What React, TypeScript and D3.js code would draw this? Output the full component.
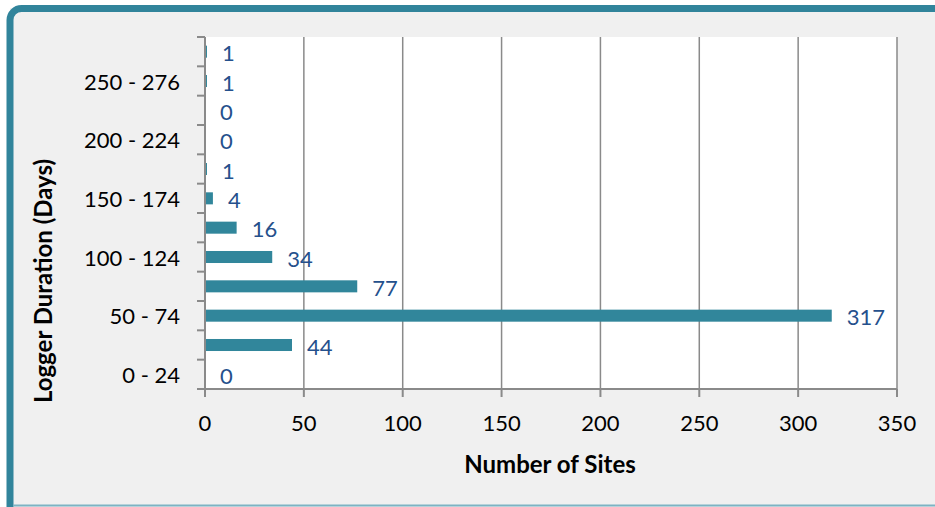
import React from "react";
import * as d3 from "d3";

const categories = [
  "0 - 24", "25 - 49", "50 - 74", "75 - 99", "100 - 124", "125 - 149",
  "150 - 174", "175 - 199", "200 - 224", "225 - 249", "250 - 276", "277 +",
];
const siteCounts = [0, 44, 317, 77, 34, 16, 4, 1, 0, 0, 1, 1];
const xTicks = [0, 50, 100, 150, 200, 250, 300, 350];
const shownCategoryLabels = ["0 - 24", "50 - 74", "100 - 124", "150 - 174", "200 - 224", "250 - 276"];

const W = 935, H = 507;
const FONT = "Lato, 'Open Sans', sans-serif";
const BAR = "#31869b";
const LABEL = "#25508c";
const AXIS = "#8a8a8a";

export default function App() {
  const x = d3.scaleLinear().domain([0, 350]).range([205, 897]);
  const y = d3.scaleBand<string>().domain(categories).range([389, 37]).paddingInner(0.59).paddingOuter(0.295);
  const step = y.step();
  const bounds = d3.range(categories.length + 1).map((i) => 389 - i * step);

  return (
    <svg width={W} height={H} style={{ position: "absolute", left: 0, top: 0 }} fontFamily={FONT}>
      <rect x={0} y={0} width={W} height={H} fill="#ffffff" />
      <rect x={10} y={8} width={W} height={H} fill="#f0f0f0" />
      <path d={`M10,${H + 5} V20 A11.5,11.5 0 0 1 21.5,8.5 H${W + 5}`} fill="none" stroke="#31849b" strokeWidth={7} />
      <line x1={13} x2={W} y1={505.5} y2={505.5} stroke="#7db3c3" strokeWidth={2} />

      <rect x={x(0)} y={37} width={x(350) - x(0)} height={389 - 37} fill="#ffffff" />

      {xTicks.slice(1).map((t) => (
        <line key={"g" + t} x1={x(t)} x2={x(t)} y1={37} y2={389} stroke={AXIS} strokeWidth={1.5} />
      ))}

      {categories.map((c, i) => (
        <rect key={c} x={x(0)} y={y(c)!} width={x(siteCounts[i]) - x(0)} height={y.bandwidth()} fill={BAR} />
      ))}

      <line x1={x(0)} x2={x(0)} y1={37} y2={389} stroke={AXIS} strokeWidth={2} />
      <line x1={x(0)} x2={x(350)} y1={389} y2={389} stroke={AXIS} strokeWidth={2} />
      {bounds.map((b, i) => (
        <line key={"yt" + i} x1={197} x2={x(0)} y1={b} y2={b} stroke={AXIS} strokeWidth={2} />
      ))}
      {xTicks.map((t) => (
        <line key={"xt" + t} x1={x(t)} x2={x(t)} y1={389} y2={397} stroke={AXIS} strokeWidth={2} />
      ))}

      {xTicks.map((t) => (
        <text key={"xl" + t} x={x(t)} y={422} textAnchor="middle" dominantBaseline="central" fontSize={22} fill="#000">
          {t}
        </text>
      ))}

      {shownCategoryLabels.map((c) => (
        <text key={"yl" + c} x={180} y={y(c)! + y.bandwidth() / 2} textAnchor="end" dominantBaseline="central" fontSize={22} fill="#000">
          {c}
        </text>
      ))}

      {categories.map((c, i) => (
        <text key={"v" + c} x={x(siteCounts[i]) + 15} y={y(c)! + y.bandwidth() / 2 + 1} dominantBaseline="central" fontSize={22} fill={LABEL}>
          {siteCounts[i]}
        </text>
      ))}

      <text x={550} y={463} textAnchor="middle" dominantBaseline="central" fontSize={24} fontWeight="bold" fill="#000">
        Number of Sites
      </text>
      <text transform="translate(42,281) rotate(-90)" textAnchor="middle" dominantBaseline="central" fontSize={24} fontWeight="bold" fill="#000">
        Logger Duration (Days)
      </text>
    </svg>
  );
}
